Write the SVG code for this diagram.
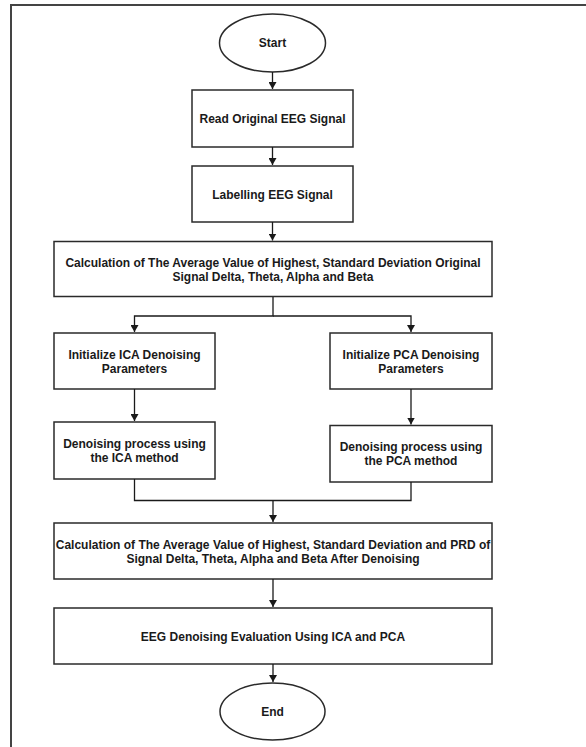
<svg xmlns="http://www.w3.org/2000/svg" width="586" height="747" viewBox="0 0 586 747">
<style>
.n{fill:#fff;stroke:#2a2a2a;stroke-width:1.5}
.t{font-family:"Liberation Sans",Arial,sans-serif;font-weight:bold;font-size:12px;fill:#1a1a1a;text-anchor:middle}
.c{fill:none;stroke:#1a1a1a;stroke-width:1.3}
</style>
<defs>
<marker id="ah" markerWidth="8" markerHeight="8" refX="7" refY="4" orient="auto" markerUnits="userSpaceOnUse">
<path d="M0,0 L7,4 L0,8 Z" fill="#1a1a1a"/>
</marker>
</defs>
<rect x="0" y="0" width="586" height="747" fill="#fff"/>
<path d="M11,760 V5 H600" fill="none" stroke="#444" stroke-width="2"/>
<g id="start"><ellipse class="n" cx="272.5" cy="43" rx="53" ry="29"/><text class="t" x="272.5" y="47.3">Start</text></g>
<g id="read"><rect class="n" x="192" y="90" width="161" height="57"/><text class="t" x="272.5" y="123.3">Read Original EEG Signal</text></g>
<g id="label"><rect class="n" x="192" y="166" width="161" height="56"/><text class="t" x="272.5" y="198.6">Labelling EEG Signal</text></g>
<g id="calc1"><rect class="n" x="54" y="241.5" width="438" height="55"/><text class="t" x="273" y="267">Calculation of The Average Value of Highest, Standard Deviation Original</text><text class="t" x="273" y="280.5">Signal Delta, Theta, Alpha and Beta</text></g>
<g id="icainit"><rect class="n" x="54" y="333" width="161" height="56"/><text class="t" x="134.5" y="359.3">Initialize ICA Denoising</text><text class="t" x="134.5" y="372.5">Parameters</text></g>
<g id="pcainit"><rect class="n" x="330" y="333" width="162" height="56"/><text class="t" x="411" y="359.3">Initialize PCA Denoising</text><text class="t" x="411" y="372.5">Parameters</text></g>
<g id="icaden"><rect class="n" x="54" y="422" width="161" height="57"/><text class="t" x="134.5" y="448.3">Denoising process using</text><text class="t" x="134.5" y="462">the ICA method</text></g>
<g id="pcaden"><rect class="n" x="330" y="425.5" width="162" height="56.5"/><text class="t" x="411" y="451.3">Denoising process using</text><text class="t" x="411" y="465">the PCA method</text></g>
<g id="calc2"><rect class="n" x="54" y="523" width="438" height="56"/><text class="t" x="273" y="549.3">Calculation of The Average Value of Highest, Standard Deviation and PRD of</text><text class="t" x="273" y="563.3">Signal Delta, Theta, Alpha and Beta After Denoising</text></g>
<g id="eval"><rect class="n" x="54" y="608" width="438" height="56"/><text class="t" x="273" y="641">EEG Denoising Evaluation Using ICA and PCA</text></g>
<g id="end"><ellipse class="n" cx="272.5" cy="711.5" rx="52.5" ry="28.5"/><text class="t" x="272.5" y="716">End</text></g>
<g id="connectors">
<path class="c" d="M272.5,72 V89" marker-end="url(#ah)"/>
<path class="c" d="M272.5,147 V165" marker-end="url(#ah)"/>
<path class="c" d="M272.5,222 V240.5" marker-end="url(#ah)"/>
<path class="c" d="M273,297 V316 H134.5 V332" marker-end="url(#ah)"/>
<path class="c" d="M273,316 H411 V332" marker-end="url(#ah)"/>
<path class="c" d="M134.5,389 V421" marker-end="url(#ah)"/>
<path class="c" d="M411,389 V424.5" marker-end="url(#ah)"/>
<path class="c" d="M134.5,479 V500.5 H411 V482"/>
<path class="c" d="M273,500.5 V522" marker-end="url(#ah)"/>
<path class="c" d="M273,579 V607" marker-end="url(#ah)"/>
<path class="c" d="M273,664 V682" marker-end="url(#ah)"/>
</g>
</svg>
